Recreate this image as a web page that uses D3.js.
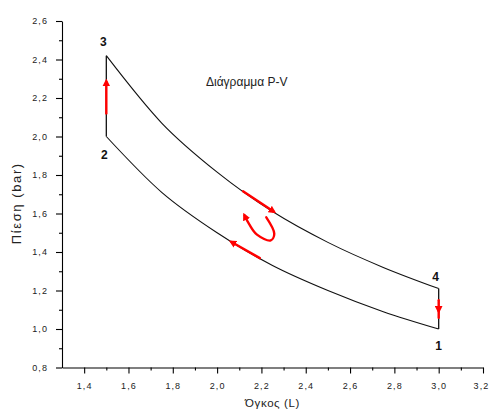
<!DOCTYPE html>
<html>
<head>
<meta charset="utf-8">
<script src="https://cdn.jsdelivr.net/npm/d3@7"></script>
<style>
  html, body { margin: 0; padding: 0; background: #fff; }
  svg { display: block; font-family: "Liberation Sans", Arial, sans-serif; }
</style>
</head>
<body>
<svg id="chart" width="490" height="419"></svg>
<script>
// ---- data ----
const xTicks = [1.4, 1.6, 1.8, 2.0, 2.2, 2.4, 2.6, 2.8, 3.0, 3.2];
const yTicks = [0.8, 1.0, 1.2, 1.4, 1.6, 1.8, 2.0, 2.2, 2.4, 2.6];
// lower curve 1 -> 2 (volume, pressure)
const lowerV = [1.5, 1.75, 2.0, 2.25, 2.5, 2.75, 3.0];
const lowerP = [2.0, 1.71, 1.50, 1.33, 1.20, 1.09, 1.00];
// upper curve 3 -> 4
const upperV = [1.5, 1.75, 2.0, 2.25, 2.5, 2.75, 3.0];
const upperP = [2.42, 2.07, 1.815, 1.61, 1.45, 1.32, 1.21];
// state point labels
const stateNames = ["1", "2", "3", "4"];
const stateV = [3.0, 1.5, 1.5, 3.0];
const stateP = [1.0, 2.0, 2.42, 1.21];
// red direction arrows (data coords)
const arrow23 = [[1.5, 2.12], [1.5, 2.285]];
const arrow41a = [[3.0, 1.15], [3.0, 1.095]];
const arrow41b = [[3.0, 1.10], [3.0, 1.058]];
const arrowUpper = [[2.117, 1.715], [2.255, 1.610]];
const arrowLower = [[2.193, 1.368], [2.065, 1.452]];
const curlArrow = [[2.222, 1.580], [2.258, 1.495], [2.242, 1.460], [2.180, 1.490], [2.146, 1.542], [2.124, 1.590]];
const title = "Διάγραμμα P-V";
const xLabel = "Όγκος (L)";
const yLabel = "Πίεση (bar)";

// ---- layout ----
const svg = d3.select("#chart");
const x = d3.scaleLinear().domain([1.3, 3.2]).range([62, 483]);
const y = d3.scaleLinear().domain([0.8, 2.6]).range([367.5, 21]);
const fmt = d => d3.format(".1f")(d).replace(".", ",");

// axes
const xAxis = svg.append("g").attr("transform", `translate(0,${y(0.8)})`)
  .call(d3.axisBottom(x).tickValues(xTicks).tickSize(6).tickSizeOuter(0).tickPadding(7).tickFormat(fmt));
const xMinor = svg.append("g").attr("transform", `translate(0,${y(0.8)})`)
  .call(d3.axisBottom(x).tickValues(d3.range(1.5, 3.2, 0.2)).tickSize(3).tickSizeOuter(0).tickFormat(""));
xMinor.select(".domain").remove();

const yAxis = svg.append("g").attr("transform", `translate(${x(1.3)},0)`)
  .call(d3.axisLeft(y).tickValues(yTicks).tickSize(6).tickSizeOuter(0).tickPadding(8).tickFormat(fmt));
const yMinor = svg.append("g").attr("transform", `translate(${x(1.3)},0)`)
  .call(d3.axisLeft(y).tickValues(d3.range(0.9, 2.6, 0.2)).tickSize(3).tickSizeOuter(0).tickFormat(""));
yMinor.select(".domain").remove();

svg.selectAll(".domain, .tick line").attr("stroke", "#000").attr("stroke-width", 1.1);
svg.selectAll(".tick text").attr("fill", "#222").style("font-size", "9px").style("letter-spacing", "1.1px")
  .style("font-family", "'Liberation Sans', Arial, sans-serif");
xAxis.selectAll(".tick text").attr("dy", "0.9em")
  .attr("dx", d => d > 3.1 ? -2 : 0);

// axis titles
svg.append("text").attr("x", (x(1.3) + x(3.2)) / 2).attr("y", 407)
  .attr("text-anchor", "middle").attr("fill", "#222")
  .style("font-size", "11.5px").style("letter-spacing", "0.6px").text(xLabel);
svg.append("text").attr("transform", `translate(21,${(y(0.8) + y(2.6)) / 2 + 9}) rotate(-90)`)
  .attr("text-anchor", "middle").attr("fill", "#222")
  .style("font-size", "13px").style("letter-spacing", "1.6px").text(yLabel);

// title
svg.append("text").attr("x", 206).attr("y", 86).attr("fill", "#222")
  .style("font-size", "12px").text(title);

// cycle
const line = d3.line().x(d => x(d[0])).y(d => y(d[1])).curve(d3.curveMonotoneX);
const lower = lowerV.map((v, i) => [v, lowerP[i]]);
const upper = upperV.map((v, i) => [v, upperP[i]]);
svg.append("path").attr("d", line(lower)).attr("fill", "none").attr("stroke", "#111").attr("stroke-width", 1.1);
svg.append("path").attr("d", line(upper)).attr("fill", "none").attr("stroke", "#111").attr("stroke-width", 1.1);
const straight = d3.line().x(d => x(d[0])).y(d => y(d[1]));
svg.append("path").attr("d", straight([[stateV[1], stateP[1]], [stateV[2], stateP[2]]]))
  .attr("stroke", "#111").attr("stroke-width", 1.3);
svg.append("path").attr("d", straight([[stateV[0], stateP[0]], [stateV[3], stateP[3]]]))
  .attr("stroke", "#111").attr("stroke-width", 1.3);

// arrow marker
const defs = svg.append("defs");
defs.append("marker").attr("id", "ah").attr("viewBox", "0 0 10 10")
  .attr("refX", 6).attr("refY", 5).attr("markerWidth", 3.2).attr("markerHeight", 3.2)
  .attr("markerUnits", "strokeWidth").attr("orient", "auto")
  .append("path").attr("d", "M0,0 L10,5 L0,10 z").attr("fill", "#f00");

const red = "#f00";
function redPath(pts, curve, marker) {
  const l = d3.line().x(d => x(d[0])).y(d => y(d[1]));
  if (curve) l.curve(curve);
  const p = svg.append("path").attr("d", l(pts)).attr("fill", "none")
    .attr("stroke", red).attr("stroke-width", 2.4).attr("stroke-linecap", "round");
  if (marker) p.attr("marker-end", "url(#ah)");
}
redPath(arrow23, null, true);
redPath(arrow41a, null, true);
redPath(arrow41b, null, false);
redPath(arrowUpper, null, true);
redPath(arrowLower, null, true);
redPath(curlArrow, d3.curveCatmullRom, true);

// state labels
const offs = { "1": [0, 21], "2": [-2, 22], "3": [-3, -10], "4": [-3, -8] };
stateNames.forEach((n, i) => {
  svg.append("text").attr("x", x(stateV[i]) + offs[n][0]).attr("y", y(stateP[i]) + offs[n][1])
    .attr("text-anchor", "middle").attr("fill", "#111")
    .style("font-size", "12px").style("font-weight", "bold").text(n);
});
</script>
</body>
</html>
